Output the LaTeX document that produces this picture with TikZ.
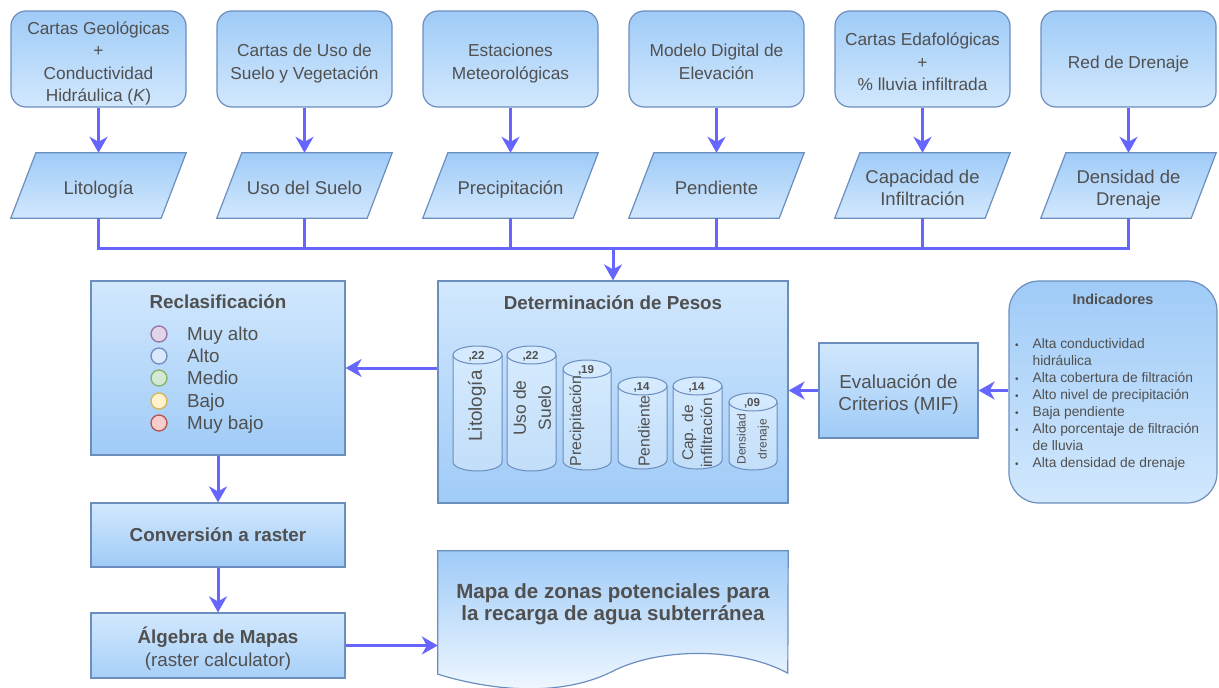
\documentclass[tikz,border=0pt]{standalone}
\usepackage{fontspec}
\setmainfont{Liberation Sans}
\usetikzlibrary{arrows.meta,calc,backgrounds}
\definecolor{strk}{HTML}{6C8EBF}
\definecolor{arrc}{HTML}{6666FF}
\definecolor{txt}{HTML}{505050}
\definecolor{gD}{HTML}{9FCBF7}
\definecolor{gL}{HTML}{D2E8FD}
\definecolor{gW}{HTML}{F2F9FF}
\definecolor{cylT}{HTML}{D6EBFE}
\definecolor{cylB}{HTML}{C2DEF9}
\definecolor{lpur}{HTML}{E1D5E7}\definecolor{dpur}{HTML}{9673A6}
\definecolor{lblu}{HTML}{DAE8FC}\definecolor{dblu}{HTML}{6C8EBF}
\definecolor{lgrn}{HTML}{D5E8D4}\definecolor{dgrn}{HTML}{82B366}
\definecolor{lyel}{HTML}{FFF2CC}\definecolor{dyel}{HTML}{D6B656}
\definecolor{lred}{HTML}{F8CECC}\definecolor{dred}{HTML}{B85450}
\newcommand\mytop{\rule{0pt}{22pt}}
\newcommand\mybot{\rule[-4pt]{0pt}{4pt}}
\begin{document}
\begin{tikzpicture}[x=1pt,y=1pt,
  every node/.style={text=txt},
  box/.style={draw=strk, line width=1.2pt},
  topbox/.style={box, rounded corners=15pt, top color=gD, bottom color=gL,
    minimum width=175pt, minimum height=96pt, align=center, inner sep=0pt,
    font=\fontsize{17.3}{22.3}\selectfont},
  ptext/.style={minimum width=150pt, minimum height=65pt, inner sep=0pt,
    align=center, font=\fontsize{18.5}{21.7}\selectfont},
  pshape/.style={box, top color=gD, bottom color=gL},
  upbox/.style={box, top color=gL, bottom color=gD, inner sep=0pt},
  arr/.style={draw=arrc, line width=3pt, -{Stealth[length=16pt,width=18pt,inset=5pt]}},
  wire/.style={draw=arrc, line width=3pt},
  cyl/.style={draw=strk, line width=1pt, top color=cylT, bottom color=cylB},
  lgd/.style={circle, line width=1.3pt, minimum size=16pt, inner sep=0pt},
  lgdtxt/.style={anchor=west, inner sep=0pt, text height=13.5pt, text depth=0pt,
    font=\fontsize{18.8}{22}\selectfont},
  rlab/.style={rotate=90, align=center, inner sep=0pt},
]
\useasboundingbox (0,0) rectangle (1219,-688);

% top sources
\node[topbox] (t1) at (98.5,-59) {\mytop Cartas Geológicas\\+\\Conductividad\\Hidráulica (\textit{K})\mybot};
\node[topbox] (t2) at (304.5,-59) {\mytop Cartas de Uso de\\Suelo y Vegetación\mybot};
\node[topbox] (t3) at (510.5,-59) {\mytop Estaciones\\Meteorológicas\mybot};
\node[topbox] (t4) at (716.5,-59) {\mytop Modelo Digital de\\Elevación\mybot};
\node[topbox] (t5) at (922.5,-59) {\mytop Cartas Edafológicas\\+\\\% lluvia infiltrada\mybot};
\node[topbox] (t6) at (1128.5,-59) {\mytop Red de Drenaje\mybot};

% parallelograms
\node[ptext] (p1) at (98.5,-185.5) {\mytop Litología\mybot};
\node[ptext] (p2) at (304.5,-185.5) {\mytop Uso del Suelo\mybot};
\node[ptext] (p3) at (510.5,-185.5) {\mytop Precipitación\mybot};
\node[ptext] (p4) at (716.5,-185.5) {\mytop Pendiente\mybot};
\node[ptext] (p5) at (922.5,-185.5) {\mytop Capacidad de\\Infiltración\mybot};
\node[ptext] (p6) at (1128.5,-185.5) {\mytop Densidad de\\Drenaje\mybot};
\begin{scope}[on background layer]
\foreach \n in {p1,p2,p3,p4,p5,p6}
  \path[pshape] ([xshift=-12.5pt]\n.south west) -- ([xshift=-12.5pt]\n.south east)
     -- ([xshift=12.5pt]\n.north east) -- ([xshift=12.5pt]\n.north west) -- cycle;
\end{scope}

% Determinacion de pesos
\node[upbox, minimum width=350pt, minimum height=222pt] (det) at (613,-392) {};
\node[font=\bfseries\fontsize{18.8}{22}\selectfont] (dett) at (613,-303) {Determinación de Pesos};
\foreach \L/\R/\T/\B/\v [count=\i] in {453/502/346/471/{,22}, 507/556/346/471/{,22},
   563/611/360/470/{,19}, 618/667/377/469/{,14}, 673/722/377/469/{,14}, 729/777/393/470/{,09}}{
  \pgfmathsetmacro{\rx}{(\R-\L)/2}
  \pgfmathsetmacro{\cx}{(\R+\L)/2}
  \path[cyl] (\L,-\T-9) -- (\L,-\B+9) arc[start angle=180, end angle=360, x radius=\rx, y radius=9]
     -- (\R,-\T-9) arc[start angle=0, end angle=180, x radius=\rx, y radius=9] -- cycle;
  \draw[draw=strk, line width=1pt] (\L,-\T-9) arc[start angle=180, end angle=360, x radius=\rx, y radius=9];
  \node[font=\bfseries\fontsize{11.5}{12}\selectfont, inner sep=0pt] (v\i) at (\cx-1,-\T-10) {\v};
}
\node[rlab, font=\fontsize{18.8}{22}\selectfont] (c1) at (477,-406) {Litología};
\node[rlab, font=\fontsize{17.5}{25}\selectfont] (c2) at (532,-408) {Uso de\\Suelo};
\node[rlab, font=\fontsize{15.8}{18}\selectfont] (c3) at (577,-421) {Precipitación};
\node[rlab, font=\fontsize{15.8}{18}\selectfont] (c4) at (644,-431) {Pendiente};
\node[rlab, font=\fontsize{15.5}{19}\selectfont] (c5) at (697,-433) {Cap. de\\infiltración};
\node[rlab, font=\fontsize{12}{21}\selectfont] (c6) at (753,-439) {Densidad\\drenaje};

% Reclasificacion
\node[upbox, minimum width=254pt, minimum height=174pt] (rec) at (218,-368) {};
\node[font=\bfseries\fontsize{18.8}{22}\selectfont] (rect) at (218,-302) {Reclasificación};
\node[lgd, draw=dpur, fill=lpur] (l1) at (159,-334) {};
\node[lgd, draw=dblu, fill=lblu] (l2) at (159,-356) {};
\node[lgd, draw=dgrn, fill=lgrn] (l3) at (159,-378) {};
\node[lgd, draw=dyel, fill=lyel] (l4) at (159,-401) {};
\node[lgd, draw=dred, fill=lred] (l5) at (159,-423) {};
\node[lgdtxt] (m1) at (187,-334) {Muy alto};
\node[lgdtxt] (m2) at (187,-356) {Alto};
\node[lgdtxt] (m3) at (187,-378) {Medio};
\node[lgdtxt] (m4) at (187,-401) {Bajo};
\node[lgdtxt] (m5) at (187,-423) {Muy bajo};

% Evaluacion
\node[box, top color=gL, bottom color=gD, minimum width=159pt, minimum height=95pt,
  inner sep=0pt, align=center, font=\fontsize{18.8}{21.5}\selectfont] (eval) at (898.5,-390.5)
  {\mytop Evaluación de\\Criterios (MIF)\mybot};

% Indicadores
\node[box, rounded corners=30pt, top color=gD, bottom color=gL, minimum width=208pt,
  minimum height=222pt] (ind) at (1113,-392) {};
\node[font=\bfseries\fontsize{14.4}{16}\selectfont] (indt) at (1113,-299) {Indicadores};
\node[anchor=north west, inner sep=0pt, align=left, font=\fontsize{13.8}{17.1}\selectfont] (indl) at (1015,-336)
 {\begin{tabular}{@{}l@{\hspace{14pt}}l@{}}
  {\fontsize{10}{10}\selectfont •} & Alta conductividad\\
   & hidráulica\\
  {\fontsize{10}{10}\selectfont •} & Alta cobertura de filtración\\
  {\fontsize{10}{10}\selectfont •} & Alto nivel de precipitación\\
  {\fontsize{10}{10}\selectfont •} & Baja pendiente\\
  {\fontsize{10}{10}\selectfont •} & Alto porcentaje de filtración\\
   & de lluvia\\
  {\fontsize{10}{10}\selectfont •} & Alta densidad de drenaje
 \end{tabular}};

% Conversion and Algebra
\node[upbox, minimum width=254pt, minimum height=64pt,
  font=\bfseries\fontsize{18.8}{22}\selectfont] (conv) at (218,-535) {Conversión a raster};
\node[box, top color=gL, bottom color=gD!85!gL, minimum width=254pt, minimum height=65pt,
  inner sep=0pt, align=center, font=\fontsize{18.8}{23}\selectfont] (alg) at (218,-645.5)
  {\mytop\textbf{Álgebra de Mapas}\\(raster calculator)\mybot};

% Document
\node[minimum width=350pt, minimum height=106pt, inner sep=0pt, align=center,
  font=\bfseries\fontsize{20.5}{22.5}\selectfont] (mapa) at (613,-604)
  {Mapa de zonas potenciales para\\la recarga de agua subterránea};
\begin{scope}[on background layer]
\path[box, top color=gD, bottom color=gW] (mapa.north west) -- (mapa.north east)
  -- ($(mapa.south west)+(350,-16)$)
  .. controls ($(mapa.south west)+(302,10)$) and ($(mapa.south west)+(222,10)$) .. ($(mapa.south west)+(175,-14)$)
  .. controls ($(mapa.south west)+(128,-38)$) and ($(mapa.south west)+(62,-36)$) .. ($(mapa.south west)+(0,-17)$)
  -- cycle;
\end{scope}

% connectors
\foreach \i in {1,...,6} \draw[arr] (t\i.south) -- (p\i.north);
\coordinate (bus) at (613,-248);
\foreach \i in {1,...,6} \draw[wire] (p\i.south) |- (bus);
\draw[arr] (bus) -- (det.north);
\draw[arr] (det.west |- rec.east) -- (rec.east);
\draw[arr] (eval.west) -- (eval.west -| det.east);
\draw[arr] (ind.west |- eval.east) -- (eval.east);
\draw[arr] (rec.south) -- (conv.north);
\draw[arr] (conv.south) -- (alg.north);
\draw[arr] (alg.east) -- (alg.east -| mapa.west);
\end{tikzpicture}
\end{document}
